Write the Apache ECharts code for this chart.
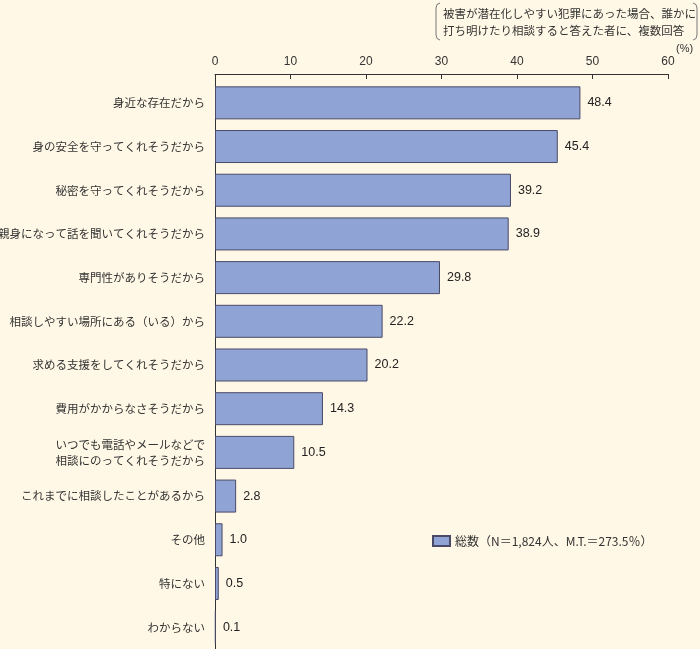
<!DOCTYPE html>
<html><head><meta charset="utf-8">
<script src="https://cdn.jsdelivr.net/npm/echarts@6/dist/echarts.min.js"></script>
<style>html,body{margin:0;padding:0;background:#FFF8E6;}#c{width:700px;height:649px;}</style>
</head><body><div id="c"></div>
<script>
const categories = ['身近な存在だから','身の安全を守ってくれそうだから','秘密を守ってくれそうだから','親身になって話を聞いてくれそうだから','専門性がありそうだから','相談しやすい場所にある（いる）から','求める支援をしてくれそうだから','費用がかからなさそうだから','いつでも電話やメールなどで\n相談にのってくれそうだから','これまでに相談したことがあるから','その他','特にない','わからない'];
const values = [48.4,45.4,39.2,38.9,29.8,22.2,20.2,14.3,10.5,2.8,1.0,0.5,0.1];
const seriesName = '総数（N＝1,824人、M.T.＝273.5％）';
const xTicks = [0,10,20,30,40,50,60];
const note = ['被害が潜在化しやすい犯罪にあった場合、誰かに','打ち明けたり相談すると答えた者に、複数回答'];
const FONT = '"Noto Sans CJK JP", sans-serif';
const NUMFONT = '"Liberation Sans", Arial, sans-serif';
const GRID_TOP = 81;
const chart = echarts.init(document.getElementById('c'));
const baseGraphic = [
  {id:'unit',type:'text',left:676,top:43,style:{text:'(%)',fill:'#333',font:'11px '+NUMFONT}},
  {id:'note',type:'text',left:443,top:5,style:{text:note.join('\n'),fill:'#333',font:'11.5px '+FONT,lineHeight:17}},
  {id:'bl',type:'polyline',shape:{points:[[440,3],[437,4.5],[436,8],[436,35],[437,38.5],[440,40]]},style:{fill:null,stroke:'#777',lineWidth:1}},
  {id:'br',type:'polyline',shape:{points:[[693,3],[696,4.5],[697,8],[697,35],[696,38.5],[693,40]]},style:{fill:null,stroke:'#777',lineWidth:1}}
];
chart.setOption({
  backgroundColor:'#FFF8E6',
  animation:false,
  textStyle:{fontFamily:FONT},
  grid:{left:215,right:32,top:GRID_TOP,bottom:0,containLabel:false,outerBoundsMode:'none'},
  xAxis:{type:'value',position:'top',min:xTicks[0],max:xTicks[xTicks.length-1],interval:10,offset:7,
    axisLine:{show:true,lineStyle:{color:'#333',width:1}},
    axisTick:{show:true,inside:true,length:5,lineStyle:{color:'#333'}},
    axisLabel:{color:'#333',fontSize:12,margin:6,fontFamily:NUMFONT},
    splitLine:{show:false}},
  yAxis:{type:'category',inverse:true,data:categories,
    axisLine:{show:true,lineStyle:{color:'#333',width:1}},
    axisTick:{show:false},
    axisLabel:{color:'#333',fontSize:11.5,margin:10,lineHeight:16,fontFamily:FONT}},
  legend:{left:427,top:530,itemWidth:17,itemHeight:10,itemGap:11,icon:'rect',
    textStyle:{color:'#333',fontSize:12,fontFamily:FONT},data:[seriesName]},
  series:[{name:seriesName,type:'bar',data:values,barWidth:33,
    itemStyle:{color:'#8FA3D4',borderColor:'#4A4A68',borderWidth:1},
    label:{show:true,position:'right',distance:7,color:'#222',fontSize:12.5,
      fontFamily:NUMFONT,formatter:p=>p.value.toFixed(1)}}],
  graphic:baseGraphic
});
const p0 = chart.convertToPixel({xAxisIndex:0},0);
chart.setOption({graphic:baseGraphic.concat([{id:'yext',type:'line',shape:{x1:p0+0.5,y1:GRID_TOP-7,x2:p0+0.5,y2:GRID_TOP+1},style:{stroke:'#333',lineWidth:1}}])});
</script></body></html>
